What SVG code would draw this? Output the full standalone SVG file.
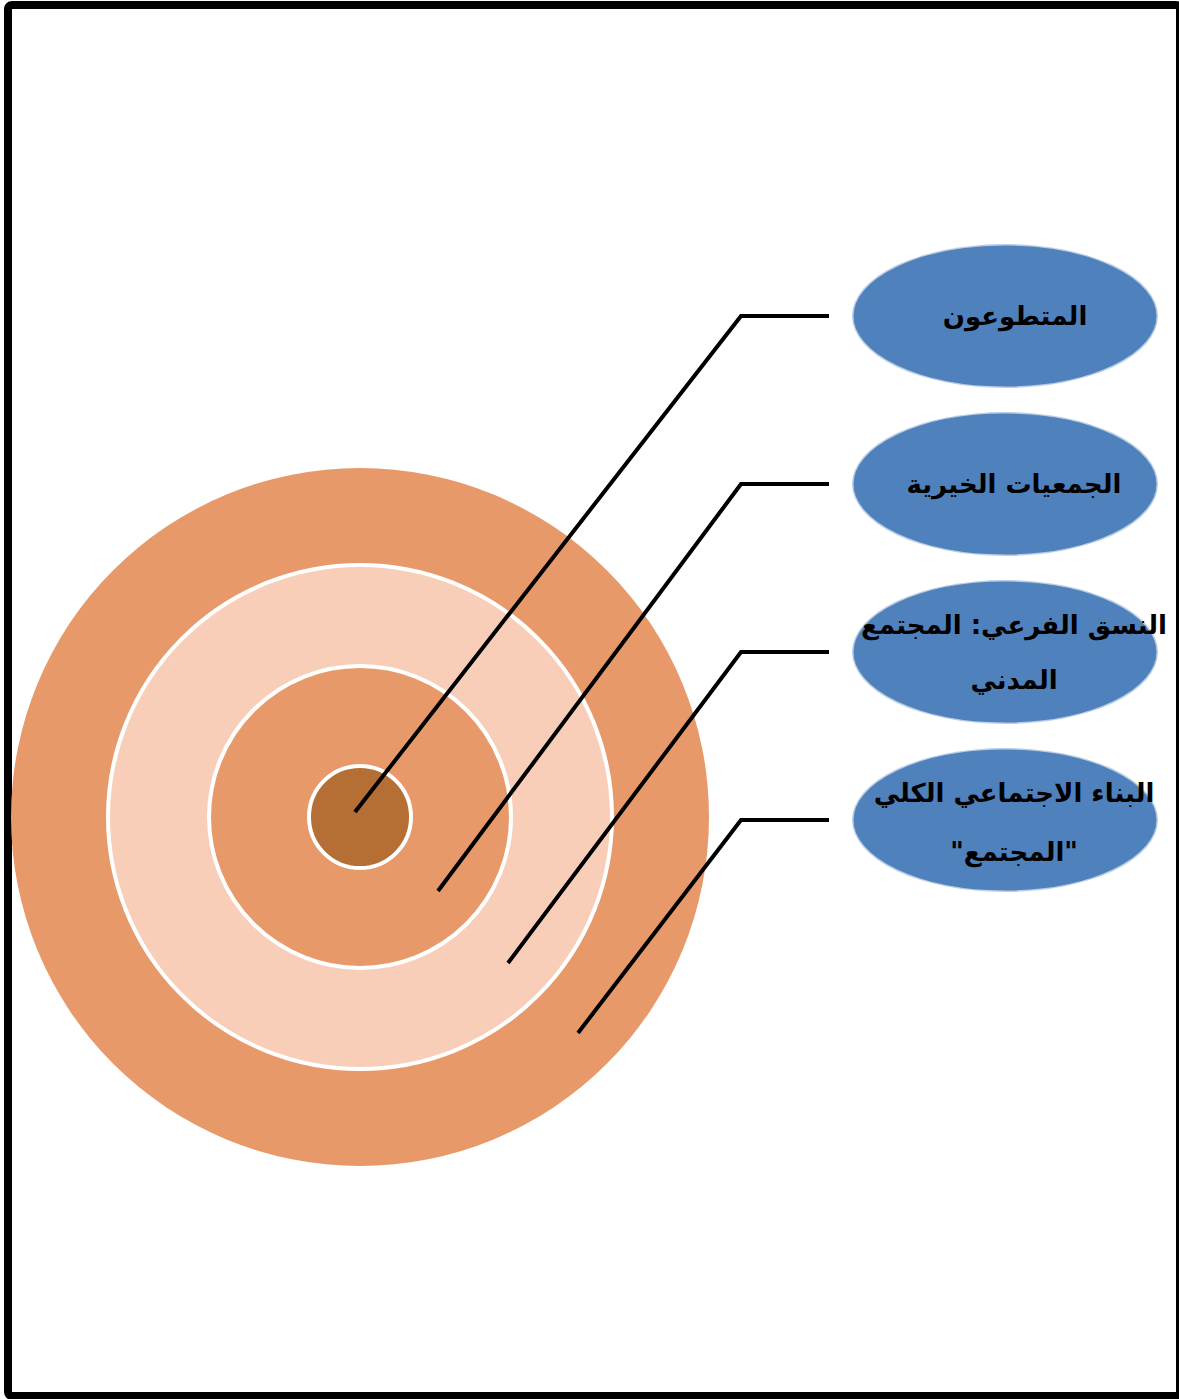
<svg xmlns="http://www.w3.org/2000/svg" width="1179" height="1399" viewBox="0 0 1179 1399">
<style>
.ring{stroke:#ffffff;stroke-width:4}
.lbl{fill:#4F81BD;stroke:#ffffff;stroke-opacity:0.6;stroke-width:3}
.t{font-family:"DejaVu Sans",sans-serif;font-weight:bold;font-size:26px;fill:#000;text-anchor:middle;direction:rtl}
.c{fill:none;stroke:#000;stroke-width:4}
</style>
<rect x="0" y="0" width="1179" height="1399" fill="#ffffff"/>
<rect x="8" y="5" width="1172" height="1391" rx="4" fill="#ffffff" stroke="#000" stroke-width="8"/>
<g id="rings">
<circle cx="360" cy="817" r="349" fill="#E8996A"/>
<circle class="ring" cx="360" cy="817" r="252" fill="#F9CEB9"/>
<circle class="ring" cx="360" cy="817" r="151" fill="#E8996A"/>
<circle class="ring" cx="360" cy="817" r="51" fill="#B56E33"/>
</g>
<g id="connectors">
<polyline class="c" points="355,812 741,316 829,316"/>
<polyline class="c" points="438,891 741,484 829,484"/>
<polyline class="c" points="508,963 741,652 829,652"/>
<polyline class="c" points="578,1033 741,820 829,820"/>
</g>
<g id="n1">
<ellipse class="lbl" cx="1005" cy="316" rx="153" ry="72"/>
<text class="t" x="1015" y="325">المتطوعون</text>
</g>
<g id="n2">
<ellipse class="lbl" cx="1005" cy="484" rx="153" ry="72"/>
<text class="t" x="1014" y="493">الجمعيات الخيرية</text>
</g>
<g id="n3">
<ellipse class="lbl" cx="1005" cy="652" rx="153" ry="72"/>
<text class="t" x="1014" y="634">النسق الفرعي: المجتمع</text>
<text class="t" x="1014" y="689">المدني</text>
</g>
<g id="n4">
<ellipse class="lbl" cx="1005" cy="820" rx="153" ry="72"/>
<text class="t" x="1014" y="802">البناء الاجتماعي الكلي</text>
<text class="t" x="1014" y="861">"المجتمع"</text>
</g>
</svg>
